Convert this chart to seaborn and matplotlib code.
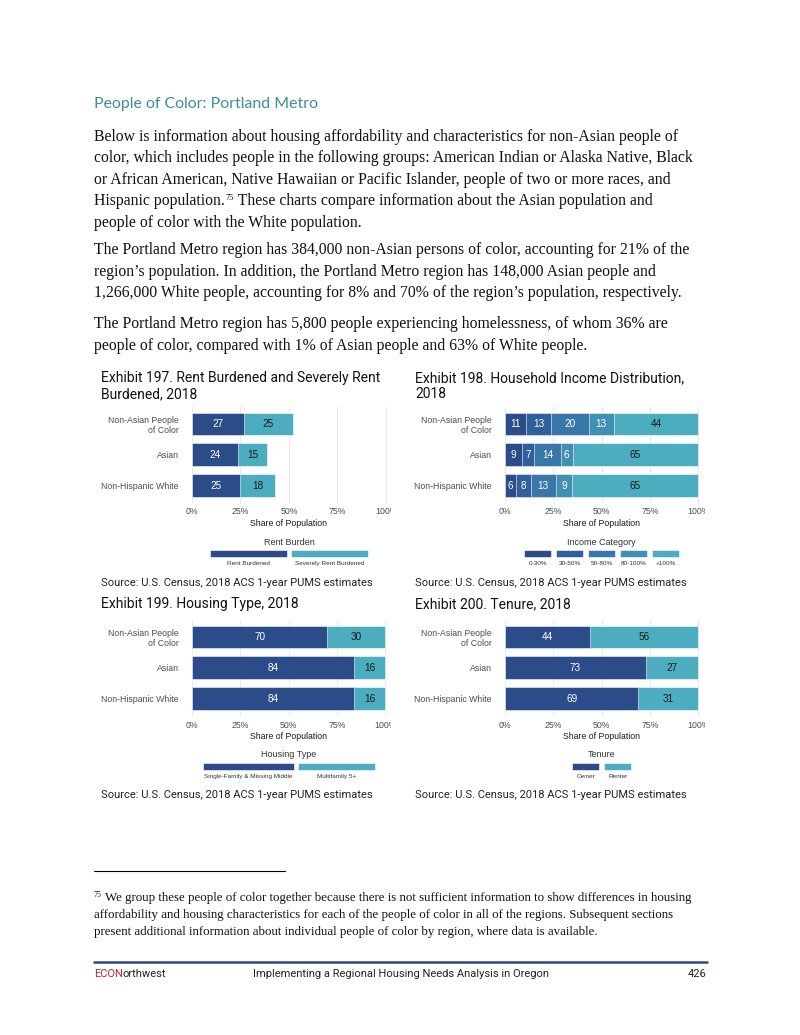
import numpy as np
import pandas as pd
import matplotlib
matplotlib.use("Agg")
import matplotlib.pyplot as plt
import seaborn as sns
from matplotlib.patches import Rectangle
from matplotlib.transforms import Bbox, TransformedBbox

groups = ["Non-Asian People\nof Color", "Asian", "Non-Hispanic White"]

rent_cats = ["Rent Burdened", "Severely Rent Burdened"]
rent_burdened = [27, 24, 25]
rent_severe = [25, 15, 18]

income_cats = ["0-30%", "30-50%", "50-80%", "80-100%", "+100%"]
income_0_30 = [10.9, 8.6, 5.7]
income_30_50 = [12.8, 6.6, 7.6]
income_50_80 = [19.6, 13.7, 12.9]
income_80_100 = [12.9, 6.1, 8.6]
income_100_plus = [43.8, 65.0, 65.2]

housing_cats = ["Single-Family & Missing Middle", "Multifamily 5+"]
housing_single = [70, 84, 84]
housing_multi = [30, 16, 16]

tenure_cats = ["Owner", "Renter"]
tenure_owner = [44, 73, 69]
tenure_renter = [56, 27, 31]

DARK = "#2c4b89"
TEAL = "#4badbf"
income_colors = ["#2c4b89", "#30609a", "#3877a8", "#4190b4", "#4badbf"]

W, H = 800, 1035
SANS = "Liberation Sans"
SERIF = "Liberation Serif"

sns.set_style("white")
fig = plt.figure(figsize=(W / 100, H / 100), dpi=100)
bg = fig.add_axes([0, 0, 1, 1])
bg.axis("off")


def fx(x):
    return x / W


def fy(y):
    return 1 - y / H


def stacked(ax, series, cats, colors):
    rows = []
    for cat, vals in zip(cats, series):
        for g, v in zip(groups, vals):
            rows.append({"group": g, "cat": cat, "value": v})
    df = pd.DataFrame(rows)
    df["end"] = df.groupby("group", sort=False)["value"].cumsum()
    df["start"] = df["end"] - df["value"]
    # draw longest cumulative layer first, so shorter ones sit on top
    for cat, col in reversed(list(zip(cats, colors))):
        sns.barplot(data=df[df["cat"] == cat], x="end", y="group", order=groups,
                    color=col, saturation=1, orient="h", width=0.74,
                    errorbar=None, edgecolor="white", linewidth=0.4, ax=ax)
    for _, r in df.iterrows():
        txt_col = "#1a1a1a" if r["cat"] == cats[-1] else "white"
        ax.text((r["start"] + r["end"]) / 2, groups.index(r["group"]),
                f"{round(r['value'])}", ha="center", va="center",
                color=txt_col, fontsize=7.2, family=SANS)
    ax.set_xlim(-5, 105)
    ax.set_ylim(2.6, -0.6)
    ax.set_xticks([0, 25, 50, 75, 100])
    ax.set_xticklabels(["0%", "25%", "50%", "75%", "100%"])
    ax.set_ylabel("")
    ax.set_xlabel("Share of Population", fontsize=6.3, color="#1a1a1a",
                  family=SANS, labelpad=1.5)
    ax.tick_params(length=0, labelsize=6.3, labelcolor="#4d4d4d", pad=2.5)
    for lbl in ax.get_xticklabels() + ax.get_yticklabels():
        lbl.set_family(SANS)
    ax.grid(axis="x", color="#ebebeb", linewidth=0.7)
    ax.grid(axis="y", visible=False)
    ax.set_axisbelow(True)
    sns.despine(ax=ax, left=True, bottom=True)


def legend(title, cats, colors, cx, widths, gap, y_title, y_key, y_lab):
    total = sum(widths) + gap * (len(widths) - 1)
    x = cx - total / 2
    fig.text(fx(cx), fy(y_title), title, ha="center", va="center",
             fontsize=6.5, color="#333333", family=SANS)
    for cat, col, w in zip(cats, colors, widths):
        fig.patches.append(Rectangle((fx(x), fy(y_key + 7)), w / W, 7 / H,
                                     transform=fig.transFigure, facecolor=col,
                                     edgecolor="white", linewidth=0.4))
        fig.text(fx(x + w / 2), fy(y_lab), cat, ha="center", va="center",
                 fontsize=4.6, color="#333333", family=SANS)
        x += w + gap


def panel(x0, x100, y_top, y_bot):
    per = (x100 - x0) / 100
    left = x0 - 5 * per
    right = x100 + 5 * per
    return fig.add_axes([fx(left), fy(y_bot), (right - left) / W, (y_bot - y_top) / H])


# --- page text ---
fig.text(fx(94), fy(108), "People of Color: Portland Metro", fontsize=11.4,
         color="#3f8c9c", family="Lato")

body = [
    (141, "Below is information about housing affordability and characteristics for non-Asian people of"),
    (162, "color, which includes people in the following groups: American Indian or Alaska Native, Black"),
    (184, "or African American, Native Hawaiian or Pacific Islander, people of two or more races, and"),
    (227, "people of color with the White population."),
    (254, "The Portland Metro region has 384,000 non-Asian persons of color, accounting for 21% of the"),
    (276, "region\u2019s population. In addition, the Portland Metro region has 148,000 Asian people and"),
    (297, "1,266,000 White people, accounting for 8% and 70% of the region\u2019s population, respectively."),
    (328, "The Portland Metro region has 5,800 people experiencing homelessness, of whom 36% are"),
    (350, "people of color, compared with 1% of Asian people and 63% of White people."),
]
BODY_FS = 11.3
for yb, s in body:
    fig.text(fx(94), fy(yb), s, fontsize=BODY_FS, family=SERIF, va="baseline",
             color="#111111")
p1 = fig.text(fx(94), fy(205), "Hispanic population.", fontsize=BODY_FS,
              family=SERIF, va="baseline", color="#111111")
sup = bg.annotate("75", xy=(1, fy(205) + 5 / H), xycoords=(p1, "figure fraction"),
                  xytext=(0.3, 0), textcoords="offset points",
                  fontsize=6, family=SERIF, va="baseline", color="#111111")
bg.annotate(" These charts compare information about the Asian population and",
            xy=(1, fy(205)), xycoords=(sup, "figure fraction"), fontsize=BODY_FS,
            family=SERIF, va="baseline", color="#111111")

# --- chart titles and sources ---
TITLE_FS = 10.0
fig.text(fx(101), fy(382), "Exhibit 197. Rent Burdened and Severely Rent",
         fontsize=TITLE_FS, family="Roboto", va="baseline", color="#111111")
fig.text(fx(101), fy(398), "Burdened, 2018", fontsize=TITLE_FS, family="Roboto",
         va="baseline", color="#111111")
fig.text(fx(415), fy(382), "Exhibit 198. Household Income Distribution,",
         fontsize=TITLE_FS, family="Roboto", va="baseline", color="#111111")
fig.text(fx(415), fy(398), "2018", fontsize=TITLE_FS, family="Roboto",
         va="baseline", color="#111111")
fig.text(fx(101), fy(608), "Exhibit 199. Housing Type, 2018", fontsize=TITLE_FS,
         family="Roboto", va="baseline", color="#111111")
fig.text(fx(415), fy(608), "Exhibit 200. Tenure, 2018", fontsize=TITLE_FS,
         family="Roboto", va="baseline", color="#111111")

src = "Source: U.S. Census, 2018 ACS 1-year PUMS estimates"
for sx, sy in [(101, 585.5), (415, 585.5), (101, 798), (415, 798)]:
    fig.text(fx(sx), fy(sy), src, fontsize=8.05, family="Roboto", va="baseline",
             color="#222222")

# --- the four exhibits ---
ax1 = panel(191.7, 386, 405.6, 504)
stacked(ax1, [rent_burdened, rent_severe], rent_cats, [DARK, TEAL])
ax2 = panel(505, 698.3, 405.6, 504)
stacked(ax2, [income_0_30, income_30_50, income_50_80, income_80_100, income_100_plus],
        income_cats, income_colors)
ax3 = panel(192, 385.3, 618.6, 717.1)
stacked(ax3, [housing_single, housing_multi], housing_cats, [DARK, TEAL])
ax4 = panel(505, 698.3, 618.6, 717.1)
stacked(ax4, [tenure_owner, tenure_renter], tenure_cats, [DARK, TEAL])

# the source images cut off the "100%" tick label at their right edge
for ax, xc in [(ax1, 391), (ax2, 705), (ax3, 391), (ax4, 705)]:
    lbl = ax.get_xticklabels()[-1]
    lbl.set_clip_on(True)
    lbl.set_clip_box(TransformedBbox(Bbox.from_extents(0, 0, fx(xc), 1), fig.transFigure))

legend("Rent Burden", rent_cats, [DARK, TEAL], 289, [77, 77], 4, 542.3, 550, 563.3)
legend("Income Category", income_cats, income_colors, 601.7, [27] * 5, 5, 542.7, 550, 563.3)
legend("Housing Type", housing_cats, [DARK, TEAL], 289, [91, 77], 4, 754.7, 763, 776.7)
legend("Tenure", tenure_cats, [DARK, TEAL], 601.7, [27, 27], 5, 754.7, 763, 776.7)

# --- footnote and footer ---
fig.lines.append(plt.Line2D([fx(94), fx(285)], [fy(871), fy(871)],
                            transform=fig.transFigure, color="black", linewidth=0.8))
FN_FS = 9.3
fsup = fig.text(fx(94), fy(897), "75", fontsize=5.8, family=SERIF, va="baseline",
                color="#111111")
bg.annotate(" We group these people of color together because there is not sufficient information to show differences in housing",
            xy=(1, fy(901)), xycoords=(fsup, "figure fraction"), fontsize=FN_FS,
            family=SERIF, va="baseline", color="#111111")
fig.text(fx(94), fy(918), "affordability and housing characteristics for each of the people of color in all of the regions. Subsequent sections",
         fontsize=FN_FS, family=SERIF, va="baseline", color="#111111")
fig.text(fx(94), fy(935), "present additional information about individual people of color by region, where data is available.",
         fontsize=FN_FS, family=SERIF, va="baseline", color="#111111")

fig.lines.append(plt.Line2D([fx(94), fx(707)], [fy(962), fy(962)],
                            transform=fig.transFigure, color="#2b4a7e", linewidth=1.8))
FOOT_FS = 8.0
econ = fig.text(fx(94), fy(977), "ECON", fontsize=FOOT_FS, family="Roboto",
                va="baseline", color="#c8252c")
bg.annotate("orthwest", xy=(1, fy(977)), xycoords=(econ, "figure fraction"),
            fontsize=FOOT_FS, family="Roboto", va="baseline", color="#222222")
fig.text(fx(253), fy(977), "Implementing a Regional Housing Needs Analysis in Oregon",
         fontsize=FOOT_FS, family="Roboto", va="baseline", color="#222222")
fig.text(fx(706), fy(977), "426", fontsize=FOOT_FS, family="Roboto", va="baseline",
         ha="right", color="#222222")

fig.savefig("out.png", dpi=100)
